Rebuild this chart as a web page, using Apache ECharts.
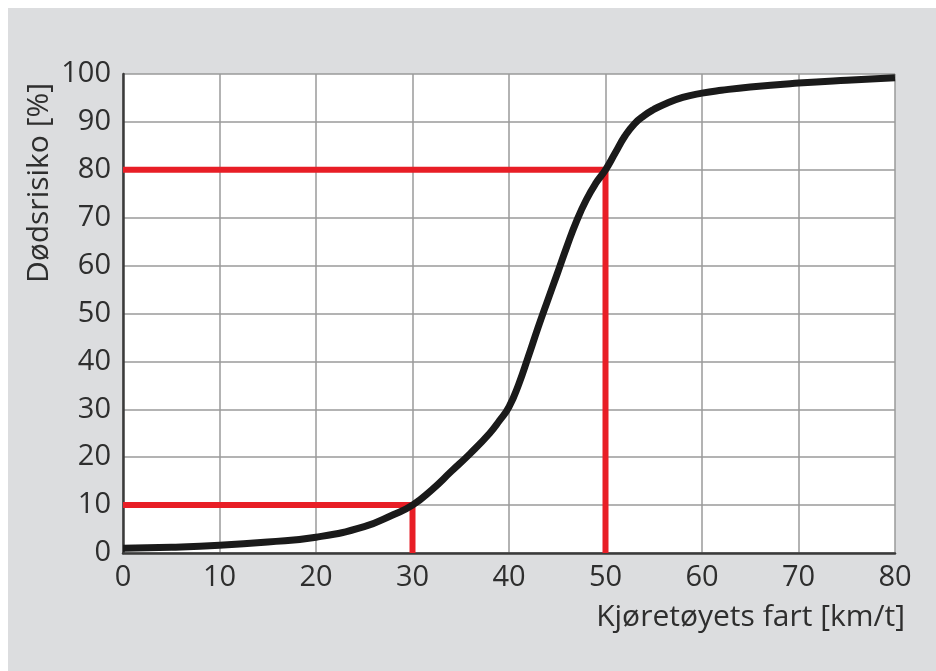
<!DOCTYPE html>
<html>
<head>
<meta charset="utf-8">
<script src="https://cdn.jsdelivr.net/npm/echarts@6/dist/echarts.min.js"></script>
<style>
  html, body { margin: 0; padding: 0; background: #ffffff; }
  #chart { position: absolute; left: 8px; top: 8px; width: 928px; height: 663px; }
</style>
</head>
<body>
<div id="chart"></div>
<script>
// Fatality risk for a pedestrian by vehicle speed
const speeds = [0, 5, 10, 15, 20, 25, 28, 30, 32, 34, 36, 38, 39, 40, 41, 42, 43, 44, 45, 46, 47, 48, 49, 50, 51, 52, 53, 54, 55, 56, 58, 60, 62, 65, 70, 75, 80];
const risk   = [1, 1.2, 1.6, 2.3, 3.3, 5.5, 8, 10, 13.2, 17, 20.8, 25, 27.6, 30.5, 35.2, 41, 47, 52.7, 58.3, 64, 69.3, 73.7, 77.2, 80, 83.5, 87, 89.6, 91.3, 92.6, 93.6, 95.1, 96, 96.6, 97.3, 98.1, 98.7, 99.2];

// Reference markers: 30 km/h -> 10 %, 50 km/h -> 80 %
const marker30 = [[0, 10], [30, 10], [30, 0]];
const marker50 = [[0, 80], [50, 80], [50, 0]];

const xTicks = [0, 10, 20, 30, 40, 50, 60, 70, 80];
const yTicks = [0, 10, 20, 30, 40, 50, 60, 70, 80, 90, 100];

const yTitle = 'Dødsrisiko [%]';
const xTitle = 'Kjøretøyets fart [km/t]';

const font = '"Open Sans", "Noto Sans", sans-serif';
const textColor = '#2e2e2e';
const chart = echarts.init(document.getElementById('chart'), null, { renderer: 'canvas' });

chart.setOption({
  backgroundColor: '#dcdddf',
  animation: false,
  grid: { left: 115, right: 41, top: 66, bottom: 118, show: true, backgroundColor: '#ffffff', borderWidth: 0 },
  xAxis: {
    type: 'value', min: xTicks[0], max: xTicks[xTicks.length - 1], interval: 10,
    axisLine: { show: true, lineStyle: { color: '#3a3a3a', width: 2.5 } },
    axisTick: { show: false },
    axisLabel: { color: textColor, fontSize: 29, fontFamily: font, margin: 10 },
    splitLine: { show: true, lineStyle: { color: '#9a9a9a', width: 1.5 } }
  },
  yAxis: {
    type: 'value', min: yTicks[0], max: yTicks[yTicks.length - 1], interval: 10,
    axisLine: { show: true, lineStyle: { color: '#3a3a3a', width: 2.5 } },
    axisTick: { show: false },
    axisLabel: { color: textColor, fontSize: 29, fontFamily: font, margin: 12 },
    splitLine: { show: true, lineStyle: { color: '#9a9a9a', width: 1.5 } }
  },
  graphic: [
    {
      type: 'text', x: 31, y: 175, rotation: Math.PI / 2,
      style: { text: yTitle, fill: textColor, font: '30px ' + font, align: 'center', verticalAlign: 'middle' }
    },
    {
      type: 'text', x: 897, y: 609,
      style: { text: xTitle, fill: textColor, font: '30px ' + font, align: 'right', verticalAlign: 'middle' }
    }
  ],
  series: [
    {
      type: 'line', data: marker30, symbol: 'none', z: 3,
      lineStyle: { color: '#e81e26', width: 6, join: 'miter' }
    },
    {
      type: 'line', data: marker50, symbol: 'none', z: 3,
      lineStyle: { color: '#e81e26', width: 6, join: 'miter' }
    },
    {
      type: 'line', data: speeds.map((s, i) => [s, risk[i]]), symbol: 'none',
      smooth: 0.5, z: 4,
      lineStyle: { color: '#1a1a1a', width: 7 }
    }
  ]
});
</script>
</body>
</html>
